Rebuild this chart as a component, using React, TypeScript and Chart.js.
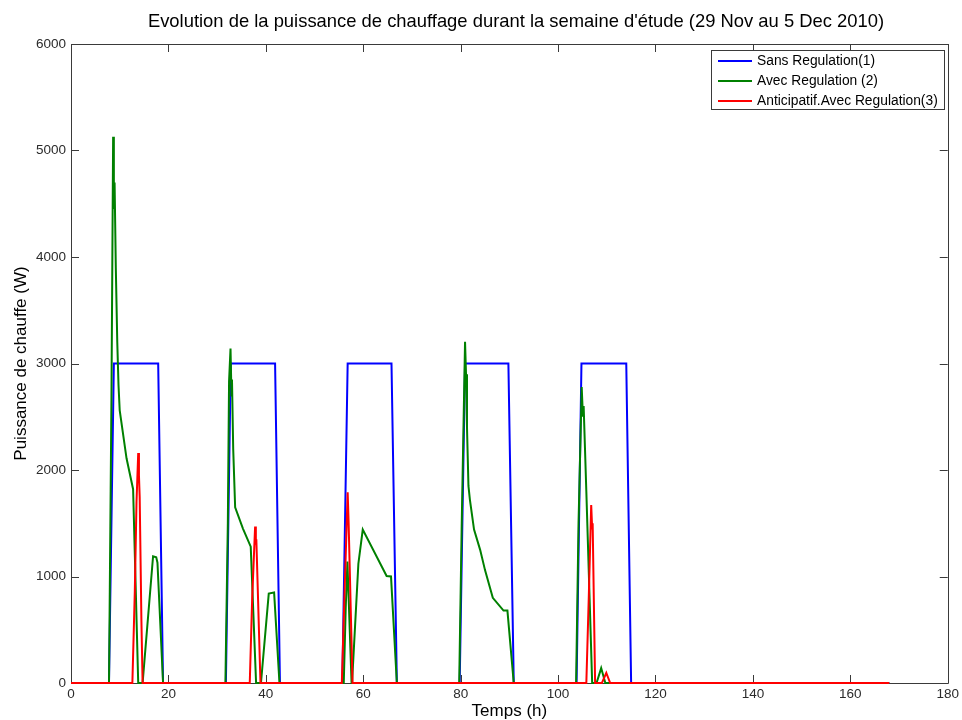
import React, { useEffect, useRef } from "react";
import { Chart, registerables } from "chart.js";

Chart.register(...registerables);

const TITLE = "Evolution de la puissance de chauffage durant la semaine d'étude (29 Nov au 5 Dec 2010)";
const X_LABEL = "Temps (h)";
const Y_LABEL = "Puissance de chauffe (W)";
const SERIES_NAMES = ["Sans Regulation(1)", "Avec Regulation (2)", "Anticipatif.Avec Regulation(3)"];
const SERIES_COLORS = ["#0000ff", "#008000", "#ff0000"];
const X_TICKS = [0, 20, 40, 60, 80, 100, 120, 140, 160, 180];
const Y_TICKS = [0, 1000, 2000, 3000, 4000, 5000, 6000];

// Sans Regulation (1)
const sansHours = [0, 7.8, 8.8, 17.9, 18.9, 31.8, 32.8, 41.9, 42.9, 55.7, 56.8, 65.8, 66.9, 79.8, 80.9, 89.8, 90.9, 103.8, 104.8, 114.0, 115.0, 168];
const sansWatts = [0, 0, 3000, 3000, 0, 0, 3000, 3000, 0, 0, 3000, 3000, 0, 0, 3000, 3000, 0, 0, 3000, 3000, 0, 0];

// Avec Regulation (2)
const avecHours = [
  0,
  7.8, 8.3, 8.65, 8.8, 8.95, 9.2, 9.5, 9.75, 10.0, 11.4, 12.75, 13.8, 14.7, 16.85, 17.5, 17.75, 18.9,
  31.7, 32.2, 32.45, 32.75, 32.95, 33.05, 33.3, 33.7, 35.3, 36.9, 38.0, 39.0, 40.6, 41.7, 42.8,
  56.0, 56.4, 56.75, 57.6, 57.7, 59.0, 59.9, 64.8, 65.7, 66.9,
  79.7, 80.2, 80.9, 81.1, 81.3, 81.6, 81.9, 82.75, 84.0, 85.0, 86.6, 88.8, 89.6, 90.9,
  103.7, 104.2, 104.85, 105.1, 105.25, 105.8, 106.4, 107.0, 107.9, 108.85, 109.7,
  168,
];
const avecWatts = [
  0,
  0, 2650, 5130, 4450, 4700, 3900, 3200, 2800, 2560, 2110, 1820, 0, 0, 1190, 1180, 1130, 0,
  0, 1500, 2830, 3140, 2700, 2850, 2200, 1650, 1450, 1280, 0, 0, 840, 850, 0,
  0, 700, 1140, 0, 0, 1120, 1440, 1005, 1000, 0,
  0, 1440, 3205, 2900, 2400, 1850, 1720, 1440, 1250, 1060, 800, 680, 680, 0,
  0, 1500, 2780, 2500, 2600, 1800, 900, 0, 0, 140, 0,
  0,
];

// Anticipatif.Avec Regulation (3)
const antHours = [
  0,
  12.6, 13.1, 13.45, 13.8, 13.95, 14.1, 14.45, 14.7,
  36.7, 37.2, 37.8, 37.95, 38.05, 38.9,
  55.6, 56.2, 56.8, 57.0, 57.8,
  105.8, 106.3, 106.8, 107.0, 107.1, 107.6, 109.0, 109.9, 110.7,
  168,
];
const antWatts = [
  0,
  0, 860, 1700, 2160, 1950, 1750, 600, 0,
  0, 800, 1470, 1300, 1350, 0,
  0, 900, 1790, 1500, 0,
  0, 800, 1670, 1450, 1500, 0, 0, 95, 0,
  0,
];

const FONT = "'Liberation Sans', Arial, Helvetica, sans-serif";

function toPoints(xs: number[], ys: number[]) {
  return xs.map((x, i) => ({ x, y: ys[i] }));
}

const matlabAxes = {
  id: "matlabAxes",
  beforeDatasetsDraw(chart: any) {
    const { ctx, chartArea } = chart;
    const { left, right, top, bottom } = chartArea;
    const xs = chart.scales.x;
    const ys = chart.scales.y;
    const tl = 8;
    ctx.save();
    ctx.strokeStyle = "#3a3a3a";
    ctx.lineWidth = 1;
    ctx.beginPath();
    ctx.rect(Math.round(left) + 0.5, Math.round(top) + 0.5, Math.round(right - left), Math.round(bottom - top));
    for (const v of X_TICKS) {
      const px = Math.round(xs.getPixelForValue(v)) + 0.5;
      ctx.moveTo(px, bottom);
      ctx.lineTo(px, bottom - tl);
      ctx.moveTo(px, top);
      ctx.lineTo(px, top + tl);
    }
    for (const v of Y_TICKS) {
      const py = Math.round(ys.getPixelForValue(v)) + 0.5;
      ctx.moveTo(left, py);
      ctx.lineTo(left + tl, py);
      ctx.moveTo(right, py);
      ctx.lineTo(right - tl, py);
    }
    ctx.stroke();
    ctx.restore();
  },
  afterDraw(chart: any) {
    const { ctx } = chart;
    ctx.save();
    // title, centred like the reference
    ctx.font = `18.4px ${FONT}`;
    ctx.fillStyle = "#000000";
    ctx.textAlign = "center";
    ctx.textBaseline = "middle";
    ctx.fillText(TITLE, 516, 22);

    // legend box
    const bx = 711.5, by = 50.5, bw = 233, bh = 59;
    ctx.fillStyle = "#ffffff";
    ctx.fillRect(bx, by, bw, bh);
    ctx.strokeStyle = "#3a3a3a";
    ctx.lineWidth = 1;
    ctx.strokeRect(bx, by, bw, bh);
    ctx.font = `13.8px ${FONT}`;
    ctx.textBaseline = "middle";
    ctx.textAlign = "left";
    SERIES_NAMES.forEach((name, i) => {
      const y = 61 + i * 20;
      ctx.strokeStyle = SERIES_COLORS[i];
      ctx.lineWidth = 2;
      ctx.beginPath();
      ctx.moveTo(718, y);
      ctx.lineTo(752, y);
      ctx.stroke();
      ctx.fillStyle = "#000000";
      ctx.fillText(name, 757, y);
    });
    ctx.restore();
  },
};

export default function App() {
  const ref = useRef<HTMLCanvasElement | null>(null);

  useEffect(() => {
    if (!ref.current) return;
    const tickFont = { family: FONT, size: 13.5 };
    const chart = new Chart(ref.current, {
      type: "line",
      data: {
        datasets: [
          { label: SERIES_NAMES[0], data: toPoints(sansHours, sansWatts), borderColor: SERIES_COLORS[0], backgroundColor: SERIES_COLORS[0], borderWidth: 2, pointRadius: 0, tension: 0, order: 3, clip: false },
          { label: SERIES_NAMES[1], data: toPoints(avecHours, avecWatts), borderColor: SERIES_COLORS[1], backgroundColor: SERIES_COLORS[1], borderWidth: 2, pointRadius: 0, tension: 0, order: 2, clip: false },
          { label: SERIES_NAMES[2], data: toPoints(antHours, antWatts), borderColor: SERIES_COLORS[2], backgroundColor: SERIES_COLORS[2], borderWidth: 2, pointRadius: 0, tension: 0, order: 1, clip: false },
        ],
      },
      options: {
        animation: false,
        responsive: false,
        events: [],
        layout: { padding: { left: 0, right: 12, top: 44, bottom: 0 } },
        plugins: {
          legend: { display: false },
          tooltip: { enabled: false },
          title: { display: false },
        },
        scales: {
          x: {
            type: "linear",
            min: 0,
            max: 180,
            afterBuildTicks: (s: any) => {
              s.ticks = X_TICKS.map((v) => ({ value: v }));
            },
            afterFit: (s: any) => {
              s.height = 37;
            },
            grid: { display: false, drawTicks: false, tickLength: 0 },
            border: { display: false },
            ticks: { padding: 3, color: "#2b2b2b", font: tickFont, maxRotation: 0, autoSkip: false },
            title: { display: true, text: X_LABEL, color: "#000000", font: { family: FONT, size: 17, lineHeight: 1 }, padding: { top: 0, bottom: 0 } },
          },
          y: {
            type: "linear",
            min: 0,
            max: 6000,
            afterBuildTicks: (s: any) => {
              s.ticks = Y_TICKS.map((v) => ({ value: v }));
            },
            afterFit: (s: any) => {
              s.width = 71;
            },
            grid: { display: false, drawTicks: false, tickLength: 0 },
            border: { display: false },
            ticks: { padding: 5, color: "#2b2b2b", font: tickFont, autoSkip: false, callback: (v: any) => String(v) },
            title: { display: true, text: Y_LABEL, color: "#000000", font: { family: FONT, size: 17, lineHeight: 1 }, padding: { top: 12.5, bottom: 0 } },
          },
        },
      },
      plugins: [matlabAxes],
    } as any);
    return () => chart.destroy();
  }, []);

  return (
    <div style={{ position: "absolute", left: 0, top: 0, width: 962, height: 720, background: "#ffffff" }}>
      <canvas ref={ref} width={962} height={720} style={{ display: "block", width: 962, height: 720 }} />
    </div>
  );
}
